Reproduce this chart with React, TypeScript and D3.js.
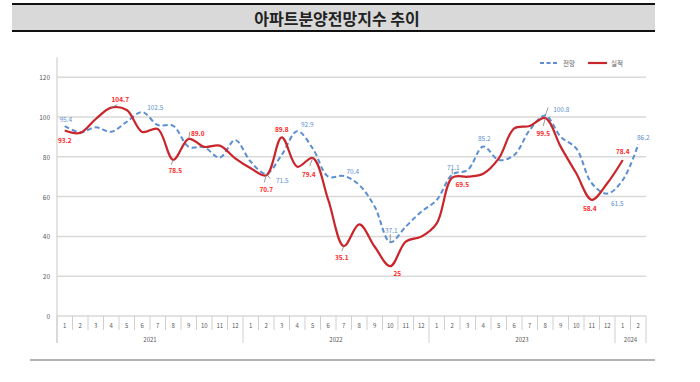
import React from "react";
import * as d3 from "d3";

const months = ["1","2","3","4","5","6","7","8","9","10","11","12","1","2","3","4","5","6","7","8","9","10","11","12","1","2","3","4","5","6","7","8","9","10","11","12","1","2"];
const years = ["2021", "2022", "2023", "2024"];
const yearMonthCounts = [12, 12, 12, 2];

const forecast = [95.4, 92.3, 94.8, 92.6, 97.6, 102.5, 96, 95.5, 85, 84.8, 79.6, 88.4, 77.5, 71.5, 81, 92.9, 84.2, 70, 70.4, 65.8, 54.9, 37.1, 44.9, 52.4, 58.3, 71.1, 73.4, 85.2, 78.4, 80.9, 93.5, 100.8, 90, 84.2, 66.7, 61.5, 68.3, 86.2];
const actual = [93.2, 92, 99, 104.7, 103.5, 92.5, 94, 78.5, 89.0, 85, 85.6, 79.2, 74.2, 70.7, 89.8, 75, 79.4, 58.3, 35.1, 46, 34.8, 25, 37.4, 39.9, 46.6, 69.5, 70, 71.5, 79.2, 94.3, 95.5, 99.5, 85, 71.7, 58.4, 66.7, 78.4];
const yTicks = [0, 20, 40, 60, 80, 100, 120];

// labelled points: index, text, label offset, optional leader offset
const forecastLabels = [
  { i: 0, t: "95.4", dx: 1, dy: -7 },
  { i: 5, t: "102.5", dx: 13, dy: -5 },
  { i: 13, t: "71.5", dx: 16, dy: 6, lx: 4, ly: 5 },
  { i: 15, t: "92.9", dx: 10, dy: -7 },
  { i: 18, t: "70.4", dx: 9, dy: -5 },
  { i: 21, t: "37.1", dx: 1, dy: -12, lx: 0, ly: -8 },
  { i: 25, t: "71.1", dx: 1, dy: -8, lx: 0, ly: -5 },
  { i: 27, t: "85.2", dx: 1, dy: -8 },
  { i: 31, t: "100.8", dx: 16, dy: -6, lx: 3, ly: -8 },
  { i: 35, t: "61.5", dx: 10, dy: 9 },
  { i: 37, t: "86.2", dx: 5, dy: -7 },
];
const actualLabels = [
  { i: 0, t: "93.2", dx: 0, dy: 9 },
  { i: 3, t: "104.7", dx: 9, dy: -9, lx: 6, ly: -3 },
  { i: 7, t: "78.5", dx: 2, dy: 10, lx: -2, ly: 5 },
  { i: 8, t: "89.0", dx: 9, dy: -6, lx: 1, ly: -7 },
  { i: 13, t: "70.7", dx: 0, dy: 14, lx: -2, ly: 7 },
  { i: 14, t: "89.8", dx: 0, dy: -8 },
  { i: 16, t: "79.4", dx: -4, dy: 16, lx: -3, ly: 8 },
  { i: 18, t: "35.1", dx: -2, dy: 11, lx: -2, ly: 5 },
  { i: 21, t: "25", dx: 7, dy: 7 },
  { i: 25, t: "69.5", dx: 10, dy: 6 },
  { i: 31, t: "99.5", dx: -2, dy: 15, lx: -2, ly: 8 },
  { i: 34, t: "58.4", dx: -2, dy: 8 },
  { i: 36, t: "78.4", dx: 0, dy: -9 },
];

const W = 700, H = 382;
const plotLeft = 57, plotRight = 646, plotBottom = 316;
const FONT = "'Noto Sans CJK KR', 'Noto Sans', sans-serif";
const BLUE = "#5b8fd0";
const RED = "#c9252b";
const LABEL_RED = "#ff1f1f";
const AXIS_GRAY = "#595959";

type Lab = { i: number; t: string; dx: number; dy: number; lx?: number; ly?: number };

export default function App() {
  const idx = months.map((_, i) => i);
  const x = d3.scaleBand<number>().domain(idx).range([plotLeft, plotRight]);
  const cx = (i: number) => (x(i) as number) + x.bandwidth() / 2;
  const y = d3.scaleLinear().domain([0, 130]).range([plotBottom, 57.3]);

  const line = d3
    .line<number>()
    .x((_, i) => cx(i))
    .y((d) => y(d))
    .curve(d3.curveCatmullRom.alpha(0.5));

  const boundaries: number[] = [0];
  yearMonthCounts.reduce((acc, c) => {
    boundaries.push(acc + c);
    return acc + c;
  }, 0);

  const leaders = (labs: Lab[], vals: number[], key: string) =>
    labs
      .filter((l) => l.lx !== undefined)
      .map((l) => (
        <line
          key={key + l.i}
          x1={cx(l.i)}
          y1={y(vals[l.i])}
          x2={cx(l.i) + (l.lx as number)}
          y2={y(vals[l.i]) + (l.ly as number)}
          stroke="#7f7f7f"
          strokeWidth={0.8}
        />
      ));

  return (
    <svg width={W} height={H} style={{ position: "absolute", left: 0, top: 0, background: "#fff" }} fontFamily={FONT}>
      {/* title band */}
      <rect x={12} y={4} width={643} height={27} fill="#d9d9d9" />
      <line x1={12} x2={655} y1={4} y2={4} stroke="#111" strokeWidth={2.2} />
      <line x1={12} x2={655} y1={31} y2={31} stroke="#111" strokeWidth={2.2} />
      <text x={337} y={18} textAnchor="middle" dominantBaseline="central" fontSize={16} fontWeight={700} fill="#222">
        아파트분양전망지수 추이
      </text>

      {/* gridlines */}
      {yTicks.map((t) => (
        <line key={t} x1={plotLeft} x2={plotRight} y1={y(t)} y2={y(t)} stroke="#d9d9d9" strokeWidth={1.5} />
      ))}
      {/* y axis */}
      <line x1={plotLeft} x2={plotLeft} y1={y(130)} y2={343} stroke="#d0d0d0" strokeWidth={1.2} />
      {yTicks.map((t) => (
        <text key={t} x={50} y={y(t)} textAnchor="end" dominantBaseline="central" fontSize={6.5} fill={AXIS_GRAY}>
          {t}
        </text>
      ))}

      {/* x axis separators */}
      {d3.range(months.length + 1).map((i) => {
        const xx = i < months.length ? (x(i) as number) : plotRight;
        const isYear = boundaries.includes(i);
        return <line key={i} x1={xx} x2={xx} y1={plotBottom} y2={isYear ? 343 : 330} stroke="#d0d0d0" strokeWidth={1} />;
      })}
      {months.map((m, i) => (
        <text key={i} x={cx(i)} y={325} textAnchor="middle" dominantBaseline="central" fontSize={6} fill={AXIS_GRAY}>
          {m}
        </text>
      ))}
      {years.map((yr, k) => {
        const a = boundaries[k];
        const b = boundaries[k + 1];
        const xa = x(a) as number;
        const xb = b < months.length ? (x(b) as number) : plotRight;
        return (
          <text key={yr} x={(xa + xb) / 2} y={339} textAnchor="middle" dominantBaseline="central" fontSize={6} fill={AXIS_GRAY}>
            {yr}
          </text>
        );
      })}

      {/* series */}
      <path d={line(forecast) || ""} fill="none" stroke={BLUE} strokeWidth={2} strokeDasharray="5,3" />
      <path d={line(actual) || ""} fill="none" stroke={RED} strokeWidth={2.2} />

      {/* leader lines */}
      {leaders(forecastLabels, forecast, "lf")}
      {leaders(actualLabels, actual, "la")}

      {/* labels */}
      {forecastLabels.map((l) => (
        <text key={"f" + l.i} x={cx(l.i) + l.dx} y={y(forecast[l.i]) + l.dy} textAnchor="middle" dominantBaseline="central" fontSize={6.5} fill="#5b8fd0">
          {l.t}
        </text>
      ))}
      {actualLabels.map((l) => (
        <text key={"a" + l.i} x={cx(l.i) + l.dx} y={y(actual[l.i]) + l.dy} textAnchor="middle" dominantBaseline="central" fontSize={6.5} fontWeight={700} fill={LABEL_RED}>
          {l.t}
        </text>
      ))}

      {/* legend */}
      <line x1={540} x2={558} y1={63} y2={63} stroke={BLUE} strokeWidth={2} strokeDasharray="4,2.5" />
      <text x={563} y={63} dominantBaseline="central" fontSize={6.5} fill={AXIS_GRAY}>전망</text>
      <line x1={588} x2={607} y1={63} y2={63} stroke={RED} strokeWidth={2.2} />
      <text x={611} y={63} dominantBaseline="central" fontSize={6.5} fill={AXIS_GRAY}>실적</text>

      {/* bottom rule */}
      <line x1={30} x2={655} y1={360} y2={360} stroke="#9a9a9a" strokeWidth={1.5} />
    </svg>
  );
}
